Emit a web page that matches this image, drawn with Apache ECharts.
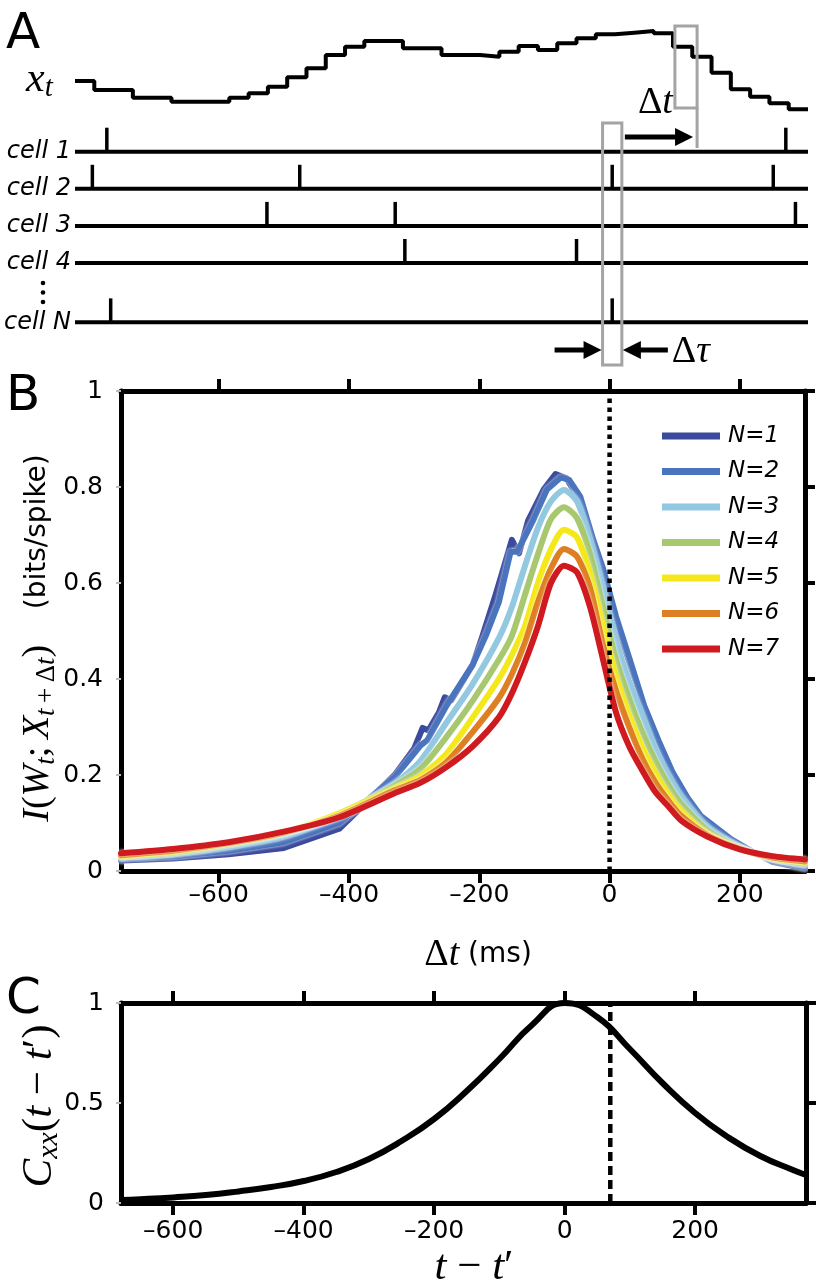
<!DOCTYPE html>
<html><head><meta charset="utf-8">
<script src="https://cdn.jsdelivr.net/npm/echarts@6/dist/echarts.min.js"></script>
<style>html,body{margin:0;padding:0;background:#fff}#c{width:816px;height:1288px}</style>
</head><body><div id="c"></div>
<script>
// ---------------- DATA ----------------
// Panel A: stimulus x_t (arbitrary units), one value per 20 ms bin
const binMs = 20;
const stimValues = [9.7,7,7,4.7,4.7,3.5,3.5,3.5,4.7,6,8,10.8,13.5,17.5,20,21.7,21.7,19.5,19.5,17.5,17.5,17,18.5,20.2,19,21,22.5,23.7,24.2,24.7,24,20,17,12.2,7.2,5,3,1.2];
const cellNames = ['cell 1','cell 2','cell 3','cell 4','cell N'];
const spikesCell1 = [33, 737];
const spikesCell2 = [18, 233, 557, 724];
const spikesCell3 = [199, 332, 747];
const spikesCell4 = [342, 520];
const spikesCellN = [37, 557];
const stimWindow = [622, 645];
const spikeWindow = [547, 567];

// Panel B: I(W_t; X_{t+dt}) vs dt (ms)
const seriesNames = ['N=1','N=2','N=3','N=4','N=5','N=6','N=7'];
const bTicks = [-600,-400,-200,0,200];
const n1 = [[-750,0.022],[-670,0.026],[-585,0.035],[-500,0.048],[-415,0.088],[-330,0.2],[-300,0.255],[-287,0.298],[-278,0.293],[-262,0.33],[-253,0.362],[-243,0.356],[-210,0.43],[-195,0.49],[-175,0.575],[-163,0.63],[-150,0.69],[-139,0.662],[-125,0.73],[-101,0.795],[-83,0.827],[-66,0.818],[-45,0.77],[-25,0.68],[-10,0.62],[10,0.52],[30,0.435],[53,0.342],[75,0.27],[97,0.203],[120,0.15],[140,0.113],[187,0.064],[220,0.04],[250,0.019],[300,0.005]];
const n2 = [[-750,0.026],[-670,0.03],[-585,0.042],[-500,0.06],[-415,0.1],[-330,0.195],[-290,0.262],[-280,0.272],[-250,0.345],[-210,0.43],[-190,0.49],[-170,0.56],[-152,0.665],[-142,0.665],[-117,0.731],[-96,0.795],[-75,0.82],[-62,0.815],[-45,0.78],[-25,0.69],[-10,0.63],[10,0.53],[30,0.445],[53,0.345],[75,0.272],[97,0.205],[120,0.152],[140,0.115],[187,0.066],[220,0.04],[250,0.021],[300,0.008]];
const n3 = [[-750,0.028],[-670,0.035],[-585,0.05],[-500,0.072],[-415,0.115],[-330,0.182],[-290,0.23],[-250,0.31],[-210,0.39],[-170,0.485],[-150,0.55],[-130,0.635],[-110,0.715],[-90,0.77],[-70,0.794],[-50,0.77],[-30,0.69],[-10,0.59],[10,0.48],[30,0.395],[50,0.325],[70,0.255],[90,0.2],[110,0.155],[150,0.092],[200,0.05],[250,0.025],[300,0.012]];
const n4 = [[-750,0.03],[-670,0.038],[-585,0.055],[-500,0.078],[-415,0.12],[-330,0.178],[-290,0.213],[-250,0.28],[-210,0.355],[-170,0.44],[-150,0.49],[-130,0.575],[-110,0.66],[-90,0.733],[-70,0.758],[-50,0.735],[-30,0.66],[-10,0.55],[10,0.44],[30,0.36],[50,0.29],[70,0.23],[90,0.18],[110,0.14],[150,0.085],[200,0.048],[250,0.026],[300,0.015]];
const n5 = [[-750,0.031],[-670,0.04],[-585,0.057],[-500,0.08],[-415,0.12],[-330,0.172],[-290,0.198],[-250,0.245],[-210,0.32],[-170,0.4],[-150,0.45],[-130,0.51],[-110,0.6],[-90,0.67],[-70,0.711],[-50,0.695],[-30,0.62],[-10,0.51],[10,0.405],[30,0.325],[50,0.258],[70,0.205],[90,0.16],[110,0.125],[150,0.078],[200,0.047],[250,0.027],[300,0.018]];
const n6 = [[-750,0.033],[-670,0.042],[-585,0.058],[-500,0.08],[-415,0.115],[-330,0.168],[-290,0.19],[-250,0.227],[-210,0.29],[-170,0.36],[-150,0.41],[-130,0.475],[-110,0.56],[-90,0.63],[-70,0.671],[-50,0.655],[-30,0.59],[-10,0.47],[10,0.375],[30,0.3],[50,0.235],[70,0.185],[90,0.147],[110,0.115],[150,0.075],[200,0.046],[250,0.028],[300,0.02]];
const n7 = [[-750,0.037],[-670,0.046],[-585,0.06],[-500,0.082],[-415,0.112],[-330,0.162],[-290,0.184],[-250,0.217],[-210,0.26],[-170,0.32],[-150,0.37],[-130,0.435],[-110,0.51],[-90,0.6],[-70,0.636],[-50,0.622],[-30,0.55],[-10,0.44],[10,0.33],[30,0.26],[50,0.21],[70,0.165],[90,0.135],[110,0.105],[150,0.072],[200,0.045],[250,0.031],[300,0.024]];
const seriesColors = ['#3a4a9c','#4a74bd','#92c8e0','#a8c870','#f4e81a','#de7f24','#cf1a1f'];

// Panel C: stimulus autocorrelation
const cTicks = [-600,-400,-200,0,200];
const cxx = [[-680,0.015],[-650,0.019],[-600,0.028],[-550,0.04],[-500,0.058],[-450,0.08],[-400,0.11],[-350,0.155],[-300,0.22],[-250,0.31],[-200,0.42],[-150,0.56],[-100,0.72],[-50,0.89],[0,1.0],[50,0.93],[100,0.77],[150,0.6],[200,0.45],[250,0.33],[300,0.235],[350,0.165],[370,0.14]];
const cMarker = 70;

// ---------------- LAYOUT ----------------
const rowLevels = [0,1,2,3,4.6];
const spikeLists = [spikesCell1, spikesCell2, spikesCell3, spikesCell4, spikesCellN];
const tMax = stimValues.length * binMs;
const stimData = stimValues.map((v,i)=>[i*binMs, v]).concat([[tMax, stimValues[stimValues.length-1]]]);
const spikeData = [];
spikeLists.forEach((lst, r) => lst.forEach(t => spikeData.push([t, rowLevels[r]])));
const baseData = rowLevels.map(r => [0, r]);

const SANS = 'DejaVu Sans';
const SERIF = 'Liberation Serif';
const blk = '#000';

function valAxis(o){
  return Object.assign({type:'value', splitLine:{show:false}, axisLine:{show:true,onZero:false,lineStyle:{color:blk,width:5}},
    axisTick:{show:true,length:12,lineStyle:{color:blk,width:4}},
    axisLabel:{fontFamily:SANS,fontSize:25,color:blk}}, o);
}
const dashFmt = v => String(v).replace('-', '\u2013');

const bData = [n1,n2,n3,n4,n5,n6,n7];
const bSeries = bData.map((d,i)=>({
  name: seriesNames[i], type:'line', xAxisIndex:2, yAxisIndex:2, data:d,
  showSymbol:false, symbol:'none', smooth: i<2 ? false : 0.25,
  lineStyle:{width:6, color:seriesColors[i], cap:'round', join:'round', shadowColor:'rgba(255,255,255,0.95)', shadowBlur:3},
  itemStyle:{color:seriesColors[i]}, z: 2+i, silent:true
}));

const option = {
  backgroundColor:'#fff',
  animation:false,
  grid:[
    {left:75, top:30, width:733, height:83.3},
    {left:75, top:114.6, width:733, height:222.6},
    {left:121, top:391, width:684, height:480},
    {left:121, top:1003, width:685, height:200}
  ],
  xAxis:[
    {type:'value', gridIndex:0, min:0, max:tMax, show:false},
    {type:'value', gridIndex:1, min:0, max:tMax, show:false},
    valAxis({gridIndex:2, min:-750, max:300, position:'bottom',
      axisTick:{show:true, customValues:bTicks, length:12, lineStyle:{color:blk,width:4}},
      axisLabel:{customValues:bTicks, formatter:dashFmt, fontFamily:SANS, fontSize:25, color:blk, margin:12}}),
    valAxis({gridIndex:2, min:-750, max:300, position:'top',
      axisTick:{show:true, customValues:bTicks, length:12, lineStyle:{color:blk,width:4}},
      axisLabel:{show:false}}),
    valAxis({gridIndex:3, min:-680, max:370, position:'bottom',
      axisTick:{show:true, customValues:cTicks, length:12, lineStyle:{color:blk,width:4}},
      axisLabel:{customValues:cTicks, formatter:dashFmt, fontFamily:SANS, fontSize:25, color:blk, margin:16}}),
    valAxis({gridIndex:3, min:-680, max:370, position:'top',
      axisTick:{show:true, customValues:cTicks, length:12, lineStyle:{color:blk,width:4}},
      axisLabel:{show:false}})
  ],
  yAxis:[
    {type:'value', gridIndex:0, min:0, max:25, show:false},
    {type:'value', gridIndex:1, min:-1, max:5, inverse:true,
      axisLine:{show:false}, axisTick:{show:false}, splitLine:{show:false},
      axisLabel:{customValues:rowLevels, formatter:v=>cellNames[rowLevels.indexOf(v)],
        fontFamily:SANS, fontStyle:'italic', fontSize:24, color:blk, margin:4}},
    valAxis({gridIndex:2, min:0, max:1, interval:0.2, position:'left',
      axisTick:{show:true,length:5,lineStyle:{color:'#bbb',width:2}},
      axisLabel:{fontFamily:SANS,fontSize:25,color:blk,margin:18}}),
    valAxis({gridIndex:2, min:0, max:1, interval:0.2, position:'right',
      axisTick:{show:true,length:10,lineStyle:{color:blk,width:4}}, axisLabel:{show:false}}),
    valAxis({gridIndex:3, min:0, max:1, interval:0.5, position:'left',
      axisTick:{show:true,length:5,lineStyle:{color:'#bbb',width:2}},
      axisLabel:{fontFamily:SANS,fontSize:25,color:blk,margin:17}}),
    valAxis({gridIndex:3, min:0, max:1, interval:0.5, position:'right',
      axisTick:{show:true,length:10,lineStyle:{color:blk,width:4}}, axisLabel:{show:false}})
  ],
  legend:{
    data:seriesNames, orient:'vertical', left:657, top:419, itemWidth:58, itemHeight:7, itemGap:11.5,
    icon:'rect', selectedMode:false,
    textStyle:{fontFamily:SANS, fontStyle:'italic', fontSize:23, color:blk, lineHeight:24, padding:[0,0,0,3]}
  },
  series:[
    {type:'line', xAxisIndex:0, yAxisIndex:0, data:stimData, step:'end', symbol:'none',
      lineStyle:{color:blk, width:4}, silent:true},
    {type:'custom', xAxisIndex:1, yAxisIndex:1, data:baseData, silent:true,
      renderItem:(p, api)=>{
        const a = api.coord([0, api.value(1)]);
        const b = api.coord([tMax, api.value(1)]);
        return {type:'line', shape:{x1:a[0], y1:a[1], x2:b[0], y2:b[1]}, style:{stroke:blk, lineWidth:4}};
      }},
    {type:'custom', xAxisIndex:1, yAxisIndex:1, data:spikeData, silent:true,
      renderItem:(p, api)=>{
        const a = api.coord([api.value(0), api.value(1)]);
        return {type:'line', shape:{x1:a[0], y1:a[1], x2:a[0], y2:a[1]-24}, style:{stroke:blk, lineWidth:3.5}};
      }},
    ...bSeries,
    {name:'zero', type:'line', xAxisIndex:2, yAxisIndex:2, data:[[0,0],[0,1]], symbol:'none', silent:true,
      lineStyle:{color:blk, width:4.5, type:[4.5,4.5]}, z:20},
    {name:'cxx', type:'line', xAxisIndex:4, yAxisIndex:4, data:cxx, symbol:'none', smooth:0.5, silent:true,
      lineStyle:{color:blk, width:6}},
    {name:'cmark', type:'line', xAxisIndex:4, yAxisIndex:4, data:[[cMarker,0],[cMarker,1]], symbol:'none', silent:true,
      lineStyle:{color:blk, width:4.5, type:[9,5]}, z:20}
  ]
};

const chart = echarts.init(document.getElementById('c'), null, {renderer:'canvas', width:816, height:1288});
chart.setOption(option);

// ---------------- ANNOTATIONS ----------------
const px = t => chart.convertToPixel({gridIndex:1}, [t, 0])[0];
const grey = '#a4a4a4';
const sL = px(stimWindow[0]), sR = px(stimWindow[1]);
const kL = px(spikeWindow[0]), kR = px(spikeWindow[1]);
const mathR = {
  i:{fontFamily:SERIF, fontStyle:'italic', fontSize:38, lineHeight:44, verticalAlign:'middle', fill:blk},
  r:{fontFamily:SERIF, fontSize:38, lineHeight:44, verticalAlign:'middle', fill:blk},
  s:{fontFamily:SERIF, fontStyle:'italic', fontSize:27, lineHeight:24, verticalAlign:'bottom', fill:blk},
  sr:{fontFamily:SERIF, fontSize:27, lineHeight:24, verticalAlign:'bottom', fill:blk},
  g:{fontFamily:SANS, fontSize:28, lineHeight:44, verticalAlign:'middle', fill:blk}
};
const bigR = {
  i:{fontFamily:SERIF, fontStyle:'italic', fontSize:43, lineHeight:48, verticalAlign:'middle', fill:blk},
  r:{fontFamily:SERIF, fontSize:43, lineHeight:48, verticalAlign:'middle', fill:blk},
  s:{fontFamily:SERIF, fontStyle:'italic', fontSize:30, lineHeight:26, verticalAlign:'bottom', fill:blk}
};
const graphics = [
  {type:'text', left:6, top:10, style:{text:'A', fontFamily:SANS, fontSize:50, fill:blk}},
  {type:'text', left:6, top:372, style:{text:'B', fontFamily:SANS, fontSize:50, fill:blk}},
  {type:'text', left:6, top:975, style:{text:'C', fontFamily:SANS, fontSize:50, fill:blk}},
  {type:'text', x:26, y:80, style:{text:'{i|x}{s|t}', rich:{
      i:{fontFamily:SERIF, fontStyle:'italic', fontSize:42, lineHeight:46, verticalAlign:'middle', fill:blk},
      s:{fontFamily:SERIF, fontStyle:'italic', fontSize:29, lineHeight:26, verticalAlign:'bottom', fill:blk}},
      align:'left', verticalAlign:'middle'}},
  {type:'rect', shape:{x:sL, y:26, width:sR-sL, height:82}, style:{fill:'none', stroke:grey, lineWidth:3}, z:30},
  {type:'line', shape:{x1:sR, y1:108, x2:sR, y2:148}, style:{stroke:grey, lineWidth:3}, z:30},
  {type:'rect', shape:{x:kL, y:123, width:kR-kL, height:242}, style:{fill:'none', stroke:grey, lineWidth:3}, z:30},
  {type:'line', shape:{x1:kR+3, y1:137, x2:sR-18, y2:137}, style:{stroke:blk, lineWidth:5}, z:31},
  {type:'polygon', shape:{points:[[sR-4,137],[sR-22,128],[sR-22,146]]}, style:{fill:blk}, z:31},
  {type:'line', shape:{x1:kL-48, y1:350, x2:kL-16, y2:350}, style:{stroke:blk, lineWidth:5}, z:31},
  {type:'polygon', shape:{points:[[kL-1,350],[kL-19,341],[kL-19,359]]}, style:{fill:blk}, z:31},
  {type:'line', shape:{x1:kR+46, y1:350, x2:kR+16, y2:350}, style:{stroke:blk, lineWidth:5}, z:31},
  {type:'polygon', shape:{points:[[kR+1,350],[kR+19,341],[kR+19,359]]}, style:{fill:blk}, z:31},
  {type:'text', x:sL-2, y:103, style:{text:'{r|\u0394}{i|t}', rich:mathR, align:'right', verticalAlign:'middle'}},
  {type:'text', x:kR+50, y:352, style:{text:'{r|\u0394}{i|\u03c4}', rich:mathR, align:'left', verticalAlign:'middle'}},
  {type:'circle', shape:{cx:43, cy:283, r:2.3}, style:{fill:blk}},
  {type:'circle', shape:{cx:43, cy:292.5, r:2.3}, style:{fill:blk}},
  {type:'circle', shape:{cx:43, cy:302, r:2.3}, style:{fill:blk}},
  // Panel B axis titles
  {type:'text', x:38, y:638, rotation:Math.PI/2,
    style:{text:'{i|I}{r|(}{i|W}{s|t}{r|;\u2009}{i|X}{s|t}{sr|\u2009+\u2009\u0394}{s|t}{r|)}{g|    (bits/spike)}', rich:mathR, align:'center', verticalAlign:'middle'}},
  {type:'text', x:478, y:955, style:{text:'{r|\u0394}{i|t}{g| (ms)}', rich:mathR, align:'center', verticalAlign:'middle'}},
  // Panel C axis titles
  {type:'text', x:40, y:1106, rotation:Math.PI/2,
    style:{text:'{i|C}{s|xx}{r|(}{i|t}{r| \u2212 }{i|t}{r|\u2032)}', rich:bigR, align:'center', verticalAlign:'middle'}},
  {type:'text', x:474, y:1268, style:{text:'{i|t}{r| \u2212 }{i|t}{r|\u2032}', rich:bigR, align:'center', verticalAlign:'middle'}}
];
chart.setOption({graphic:graphics});
</script>
</body></html>
